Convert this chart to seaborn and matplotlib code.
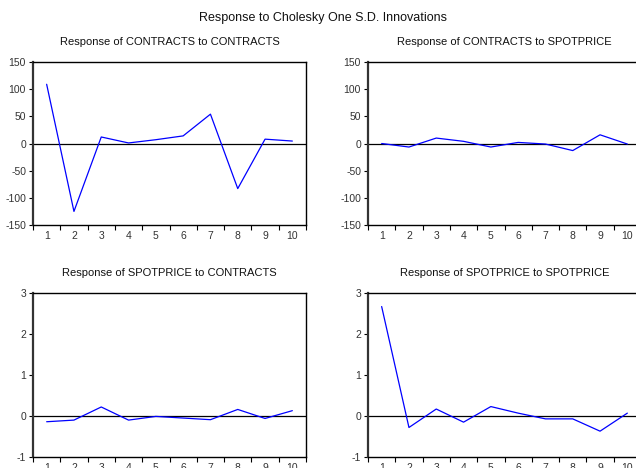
import matplotlib
matplotlib.use("Agg")
import matplotlib.pyplot as plt
import seaborn as sns
import pandas as pd
import numpy as np
from matplotlib.ticker import FixedLocator

periods = [1, 2, 3, 4, 5, 6, 7, 8, 9, 10]
contracts_to_contracts = [109, -125, 12, 1, 7, 14, 54, -83, 8, 4.5]
contracts_to_spotprice = [0, -6.5, 10, 4, -6.5, 2, -1, -13, 16, -1]
spot_to_contracts = [-0.14, -0.10, 0.22, -0.10, -0.01, -0.05, -0.09, 0.16, -0.06, 0.13]
spot_to_spot = [2.67, -0.28, 0.17, -0.15, 0.23, 0.07, -0.07, -0.07, -0.37, 0.07]

titles = ["Response of CONTRACTS to CONTRACTS",
          "Response of CONTRACTS to SPOTPRICE",
          "Response of SPOTPRICE to CONTRACTS",
          "Response of SPOTPRICE to SPOTPRICE"]
main_title = "Response to Cholesky One S.D. Innovations"
yticks_top = [-150, -100, -50, 0, 50, 100, 150]
yticks_bottom = [-1, 0, 1, 2, 3]

sns.set_theme(style="white")
plt.rcParams['font.family'] = ['Liberation Sans', 'DejaVu Sans']
plt.rcParams['axes.unicode_minus'] = False

fig = plt.figure(figsize=(6.36, 4.68), dpi=100)
W = 273 / 636
H_top = (225 - 62) / 468
H_bot = (457 - 293) / 468
rects = [
    (33 / 636, 1 - 225 / 468, W, H_top),
    (368 / 636, 1 - 225 / 468, W, H_top),
    (33 / 636, 1 - 457 / 468, W, H_bot),
    (368 / 636, 1 - 457 / 468, W, H_bot),
]
series = [contracts_to_contracts, contracts_to_spotprice, spot_to_contracts, spot_to_spot]

for i, (rect, vals, title) in enumerate(zip(rects, series, titles)):
    ax = fig.add_axes(rect)
    df = pd.DataFrame({"period": periods, "value": vals})
    ax.axhline(0, color="black", linewidth=0.9, zorder=1)
    sns.lineplot(data=df, x="period", y="value", ax=ax, color="#0000FF",
                 linewidth=0.9, zorder=2)
    ax.set_xlim(0.5, 10.5)
    if i < 2:
        ax.set_ylim(-150, 150)
        ax.set_yticks(yticks_top)
    else:
        ax.set_ylim(-1, 3)
        ax.set_yticks(yticks_bottom)
    ax.set_xticks(periods)
    ax.set_xticklabels([str(p) for p in periods])
    ax.xaxis.set_minor_locator(FixedLocator(np.arange(0.5, 11, 1)))
    ax.tick_params(axis="x", which="major", length=0, pad=4.5, labelsize=7.5, labelcolor="#333333")
    ax.tick_params(axis="x", which="minor", bottom=True, length=3.5, width=0.8, color="black", direction="out")
    ax.tick_params(axis="y", which="major", left=True, length=3, width=0.8, color="black",
                   direction="out", pad=2, labelsize=7.5, labelcolor="#333333")
    ax.set_xlabel("")
    ax.set_ylabel("")
    for s in ax.spines.values():
        s.set_visible(True)
        s.set_color("black")
        s.set_linewidth(1.0)
    ax.spines["left"].set_color("#333333")
    ax.spines["left"].set_linewidth(1.6)
    ax.set_title(title, fontsize=8, color="#111111", pad=12.5)

fig.text(0.508, 1 - 18 / 468, main_title, ha="center", va="center", fontsize=9, color="#111111")

fig.savefig("out.png", dpi=100)
